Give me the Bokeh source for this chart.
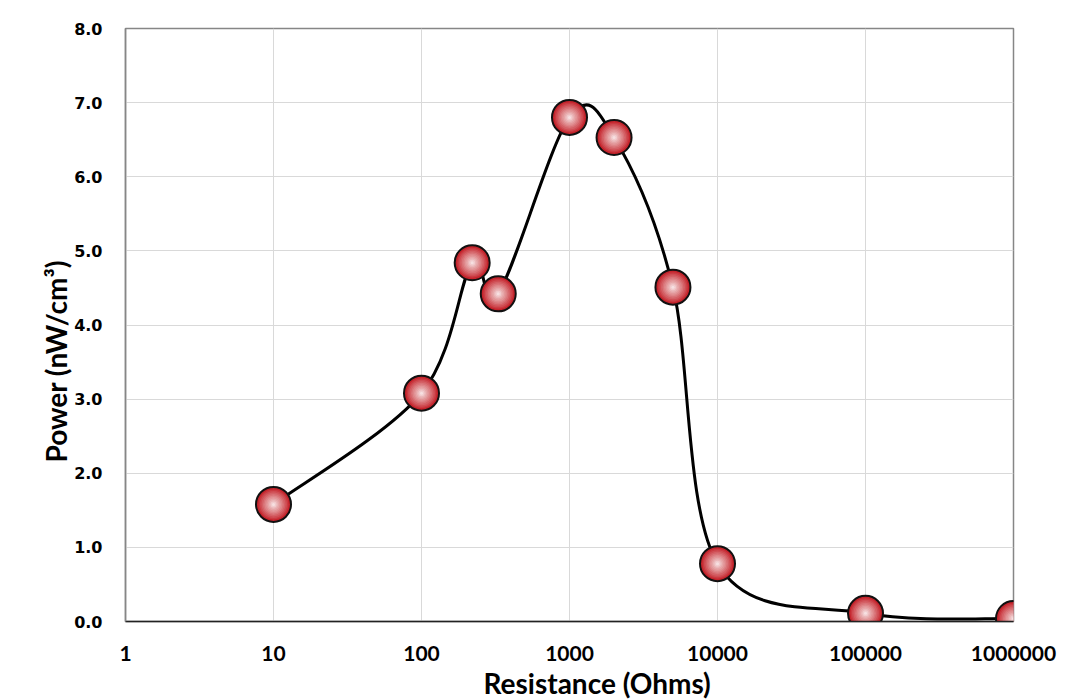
import numpy as np
from bokeh.plotting import figure
from bokeh.models import FixedTicker, Range1d, Title
from bokeh.embed import file_html
from bokeh.resources import INLINE

# ---- data ----
resistance = [10, 100, 220, 330, 1000, 2000, 5000, 10000, 100000, 1000000]
power = [1.58, 3.08, 4.84, 4.42, 6.80, 6.53, 4.51, 0.78, 0.11, 0.04]
x_ticks = [1, 10, 100, 1000, 10000, 100000, 1000000]
x_tick_labels = ["1", "10", "100", "1000", "10000", "100000", "1000000"]
y_ticks = [0, 1, 2, 3, 4, 5, 6, 7, 8]
x_title = "Resistance (Ohms)"
y_title = "Power (nW/cm³)"

p = figure(width=1071, height=699, x_axis_type="log",
           x_range=Range1d(1, 1e6), y_range=Range1d(0, 8),
           output_backend="svg", toolbar_location=None,
           min_border_left=125, min_border_right=58,
           min_border_top=28, min_border_bottom=77)

p.outline_line_color = "#868686"
p.outline_line_width = 1.5
p.background_fill_color = "white"
p.border_fill_color = "white"

# grid
p.xgrid.ticker = FixedTicker(ticks=x_ticks)
p.ygrid.ticker = FixedTicker(ticks=y_ticks)
p.xgrid.grid_line_color = "#d9d9d9"
p.ygrid.grid_line_color = "#d9d9d9"
p.xgrid.minor_grid_line_color = None

# x axis
p.xaxis.ticker = FixedTicker(ticks=x_ticks)
p.xaxis.major_label_overrides = {t: l for t, l in zip(x_ticks, x_tick_labels)}
p.xaxis.major_tick_line_color = None
p.xaxis.minor_tick_line_color = None
p.xaxis.axis_line_color = "#222222"
p.xaxis.axis_line_width = 1.5
p.xaxis.major_label_text_font = "Lato"
p.xaxis.major_label_text_font_style = "bold"
p.xaxis.major_label_text_font_size = "21px"
p.xaxis.major_label_text_color = "black"
p.xaxis.major_label_standoff = 18

# y axis
p.yaxis.ticker = FixedTicker(ticks=y_ticks)
p.yaxis.major_label_overrides = {t: f"{t:.1f}" for t in y_ticks}
p.yaxis.major_tick_line_color = None
p.yaxis.minor_tick_line_color = None
p.yaxis.axis_line_color = "#868686"
p.yaxis.axis_line_width = 1.5
p.yaxis.major_label_text_font = "DejaVu Sans"
p.yaxis.major_label_text_font_style = "bold"
p.yaxis.major_label_text_font_size = "16px"
p.yaxis.major_label_text_color = "black"
p.yaxis.major_label_standoff = 17

# axis titles as side titles (offset like the reference)
p.add_layout(Title(text=x_title, align="left", offset=358, standoff=0,
                   text_font="Lato", text_font_style="bold",
                   text_font_size="28px", text_color="black"), "below")
p.add_layout(Title(text=y_title, align="left", offset=159, standoff=-2,
                   text_font="Lato", text_font_style="bold",
                   text_font_size="28px", text_color="black"), "left")

# ---- smoothed line (Catmull-Rom bezier in log-x / y space) ----
lx = np.log10(np.array(resistance, dtype=float))
py = np.array(power, dtype=float)
n = len(lx)
x0, y0, x1, y1, cx0, cy0, cx1, cy1 = [], [], [], [], [], [], [], []
for i in range(n - 1):
    im1 = max(i - 1, 0)
    ip2 = min(i + 2, n - 1)
    c0x = lx[i] + (lx[i + 1] - lx[im1]) / 6.0
    c0y = py[i] + (py[i + 1] - py[im1]) / 6.0
    c1x = lx[i + 1] - (lx[ip2] - lx[i]) / 6.0
    c1y = py[i + 1] - (py[ip2] - py[i]) / 6.0
    x0.append(10 ** lx[i]); y0.append(py[i])
    x1.append(10 ** lx[i + 1]); y1.append(py[i + 1])
    cx0.append(10 ** c0x); cy0.append(c0y)
    cx1.append(10 ** c1x); cy1.append(c1y)

p.bezier(x0=x0, y0=y0, x1=x1, y1=y1, cx0=cx0, cy0=cy0, cx1=cx1, cy1=cy1,
         line_color="black", line_width=3)

# ---- sphere-like markers ----
p.scatter(resistance, power, size=35, fill_color="#c4232b",
          line_color="#111111", line_width=2)
for s, a in [(30, 0.10), (27, 0.10), (24, 0.11), (21, 0.12), (18, 0.13),
             (15, 0.14), (12, 0.16), (9, 0.20), (6, 0.30), (3, 0.4)]:
    p.scatter(resistance, power, size=s, fill_color="white", fill_alpha=a,
              line_color=None)

open("out.html", "w").write(file_html(p, INLINE))
